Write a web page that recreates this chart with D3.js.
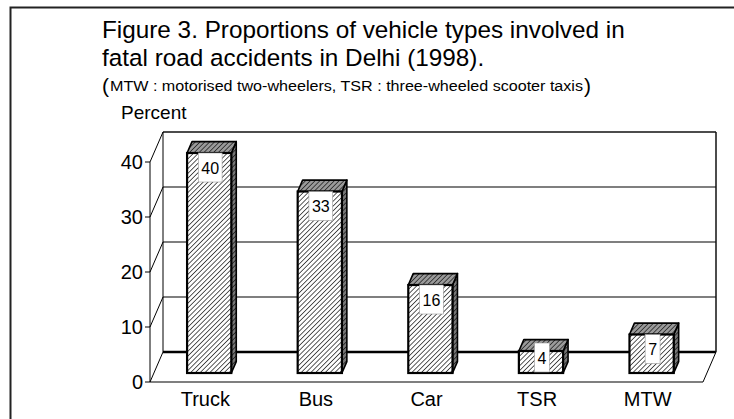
<!DOCTYPE html>
<html><head><meta charset="utf-8">
<script src="https://cdn.jsdelivr.net/npm/d3@7"></script>
<style>html,body{margin:0;padding:0;background:#fff;}svg{display:block;font-family:"Liberation Sans",Arial,sans-serif;}</style>
</head><body>
<script>
const categories = ["Truck", "Bus", "Car", "TSR", "MTW"];
const values = [40, 33, 16, 4, 7];
const yTicks = [0, 10, 20, 30, 40];
const titleLines = ["Figure 3. Proportions of vehicle types involved in", "fatal road accidents in Delhi (1998)."];
const subtitle = "MTW : motorised two-wheelers, TSR : three-wheeled scooter taxis";
const yLabel = "Percent";

const W = 734, H = 419;
const svg = d3.select("body").append("svg").attr("width", W).attr("height", H);
const defs = svg.append("defs");
function hatch(id, bg, lineCol, sw) {
  const p = defs.append("pattern").attr("id", id).attr("patternUnits", "userSpaceOnUse")
    .attr("width", 3.4).attr("height", 3.4).attr("patternTransform", "rotate(45)");
  p.append("rect").attr("width", 3.4).attr("height", 3.4).attr("fill", bg);
  p.append("line").attr("x1", 0).attr("y1", 0).attr("x2", 0).attr("y2", 3.4).attr("stroke", lineCol).attr("stroke-width", sw);
}
hatch("hFront", "#fff", "#000", 1.3);
hatch("hTop", "#9a9a9a", "#000", 1.2);
hatch("hSide", "#777", "#000", 1.2);

// frame
svg.append("rect").attr("x", 10.5).attr("y", 7.5).attr("width", 740).attr("height", 440)
  .attr("fill", "none").attr("stroke", "#222").attr("stroke-width", 2);

// titles
svg.append("text").attr("x", 102).attr("y", 38).attr("font-size", 24.3).attr("fill", "#000").text(titleLines[0]);
svg.append("text").attr("x", 102).attr("y", 66).attr("font-size", 24.3).attr("fill", "#000").text(titleLines[1]);
svg.append("text").attr("x", 102).attr("y", 93).attr("font-size", 21).text("(");
svg.append("text").attr("x", 110).attr("y", 91).attr("font-size", 14).attr("textLength", 473)
  .attr("lengthAdjust", "spacingAndGlyphs").text(subtitle);
svg.append("text").attr("x", 584).attr("y", 93).attr("font-size", 21).text(")");
svg.append("text").attr("x", 121).attr("y", 119).attr("font-size", 19).text(yLabel);

// scales
const x = d3.scaleBand().domain(categories).range([150, 703]);
const y = d3.scaleLinear().domain([0, 40]).range([382, 162]);
const DX = 13, DY = -30;
const x0 = x.range()[0], x1 = x.range()[1];

const g = svg.append("g");
// back wall gridlines
yTicks.forEach(t => {
  const isZero = t === 0, isTop = t === 40;
  g.append("line").attr("x1", x0 + DX).attr("x2", x1 + DX).attr("y1", y(t) + DY).attr("y2", y(t) + DY)
    .attr("stroke", isZero ? "#000" : (isTop ? "#111" : "#555"))
    .attr("stroke-width", isZero ? 2.6 : 1.5);
  // side wall diagonals
  g.append("line").attr("x1", x0).attr("y1", y(t)).attr("x2", x0 + DX).attr("y2", y(t) + DY)
    .attr("stroke", "#000").attr("stroke-width", 1);
});
// back wall vertical edges
g.append("line").attr("x1", x0 + DX).attr("x2", x0 + DX).attr("y1", y(0) + DY).attr("y2", y(40) + DY).attr("stroke", "#000").attr("stroke-width", 1);
g.append("line").attr("x1", x1 + DX).attr("x2", x1 + DX).attr("y1", y(0) + DY).attr("y2", y(40) + DY).attr("stroke", "#111").attr("stroke-width", 1.5);
// floor front edge and right diagonal
g.append("line").attr("x1", x0).attr("x2", x1).attr("y1", y(0)).attr("y2", y(0)).attr("stroke", "#000").attr("stroke-width", 1.2);
g.append("line").attr("x1", x1).attr("y1", y(0)).attr("x2", x1 + DX).attr("y2", y(0) + DY).attr("stroke", "#000").attr("stroke-width", 1);
// front axis
g.append("line").attr("x1", x0).attr("x2", x0).attr("y1", y(0)).attr("y2", y(40)).attr("stroke", "#000").attr("stroke-width", 1);
yTicks.forEach(t => {
  g.append("line").attr("x1", x0 - 5).attr("x2", x0).attr("y1", y(t)).attr("y2", y(t)).attr("stroke", "#000").attr("stroke-width", 1);
  g.append("text").attr("x", x0 - 7).attr("y", y(t)).attr("dy", "0.36em").attr("text-anchor", "end")
    .attr("font-size", 20).text(t);
});
// category labels
categories.forEach(c => {
  g.append("text").attr("x", x(c) + x.bandwidth() / 2).attr("y", 406).attr("text-anchor", "middle")
    .attr("font-size", 20).text(c);
});

// bars
const f1 = 0.3, f2 = 0.68;
const barW = x.bandwidth() * 0.4;
const bdx = (f2 - f1) * DX, bdy = (f2 - f1) * DY;
categories.forEach((c, i) => {
  const v = values[i];
  const L = x(c) + (x.bandwidth() - barW) / 2 + f1 * DX;
  const R = L + barW;
  const B = y(0) + f1 * DY;
  const T = y(v) + f1 * DY;
  const bg = g.append("g");
  bg.append("polygon").attr("points", [[R, T], [R + bdx, T + bdy], [R + bdx, B + bdy], [R, B]].map(p => p.join(",")).join(" "))
    .attr("fill", "url(#hSide)").attr("stroke", "#000").attr("stroke-width", 1.6).attr("stroke-linejoin", "round");
  bg.append("polygon").attr("points", [[L, T], [L + bdx, T + bdy], [R + bdx, T + bdy], [R, T]].map(p => p.join(",")).join(" "))
    .attr("fill", "url(#hTop)").attr("stroke", "#000").attr("stroke-width", 1.6).attr("stroke-linejoin", "round");
  bg.append("rect").attr("x", L).attr("y", T).attr("width", barW).attr("height", B - T)
    .attr("fill", "url(#hFront)").attr("stroke", "#000").attr("stroke-width", 2.2);
  // value label box
  const txt = bg.append("text").attr("font-size", 16).attr("text-anchor", "middle").text(v);
  const tw = txt.node().getComputedTextLength();
  const bw = tw + 6, bh = 29;
  const cx = (L + R) / 2 + 1;
  const top = Math.min(T, B - 30);
  bg.insert("rect", "text").attr("x", cx - bw / 2).attr("y", top).attr("width", bw).attr("height", bh)
    .attr("fill", "#fff").attr("stroke", "#999").attr("stroke-width", 0.6);
  txt.attr("x", cx).attr("y", top + 20.5);
});
</script>
</body></html>
